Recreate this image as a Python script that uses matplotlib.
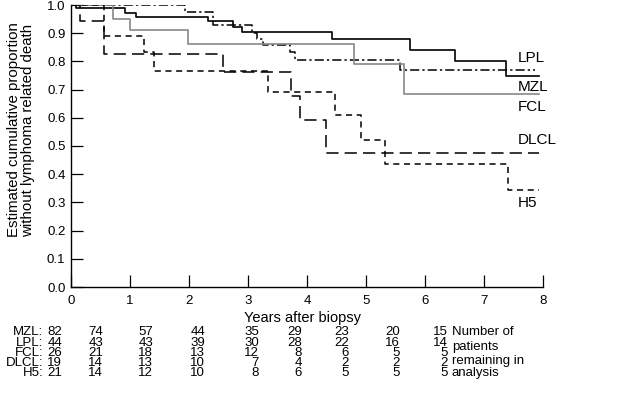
import matplotlib
matplotlib.use('Agg')
import matplotlib.pyplot as plt

plt.rcParams['font.family'] = ['Liberation Sans', 'DejaVu Sans']

# Kaplan-Meier step curves (time in years, proportion)
lpl_t = [0, 0.08, 0.92, 1.10, 2.33, 2.75, 2.90, 4.42, 5.75, 6.50, 7.38, 7.93]
lpl_s = [1.0, 0.99, 0.971, 0.958, 0.944, 0.922, 0.905, 0.878, 0.840, 0.802, 0.748, 0.748]
mzl_t = [0, 1.93, 2.41, 3.06, 3.15, 3.25, 3.71, 3.80, 5.58, 7.86]
mzl_s = [1.0, 0.974, 0.929, 0.90, 0.88, 0.858, 0.834, 0.805, 0.770, 0.770]
fcl_t = [0, 0.72, 1.0, 1.99, 4.80, 5.65, 7.93]
fcl_s = [1.0, 0.952, 0.911, 0.862, 0.790, 0.683, 0.683]
dlcl_t = [0, 0.16, 0.56, 2.58, 3.73, 3.88, 4.33, 7.93]
dlcl_s = [1.0, 0.944, 0.826, 0.763, 0.678, 0.592, 0.474, 0.474]
h5_t = [0, 0.56, 1.23, 1.41, 3.34, 4.47, 4.92, 5.32, 7.41, 7.93]
h5_s = [1.0, 0.891, 0.832, 0.766, 0.693, 0.610, 0.521, 0.435, 0.344, 0.344]

# numbers at risk
groups = ['MZL:', 'LPL:', 'FCL:', 'DLCL:', 'H5:']
at_risk = [
    [82, 74, 57, 44, 35, 29, 23, 20, 15],
    [44, 43, 43, 39, 30, 28, 22, 16, 14],
    [26, 21, 18, 13, 12, 8, 6, 5, 5],
    [19, 14, 13, 10, 7, 4, 2, 2, 2],
    [21, 14, 12, 10, 8, 6, 5, 5, 5],
]
side_note = ['Number of', 'patients', 'remaining in', 'analysis']

W, H = 640, 404
fig = plt.figure(figsize=(6.4, 4.04), dpi=100)
ax = fig.add_axes([71 / W, 1 - 287 / H, 472 / W, 282 / H])

ax.step(lpl_t, lpl_s, where='post', color='black', lw=1.2)
ax.step(mzl_t, mzl_s, where='post', color='black', lw=1.1, dashes=(6, 2, 1.5, 2))
ax.step(fcl_t, fcl_s, where='post', color='#888888', lw=1.2)
ax.step(dlcl_t, dlcl_s, where='post', color='black', lw=1.1, dashes=(8, 4))
ax.step(h5_t, h5_s, where='post', color='black', lw=1.1, dashes=(4, 3))

ax.set_xlim(0, 8)
ax.set_ylim(0, 1)
ax.set_xticks(range(9))
ax.set_yticks([i / 10 for i in range(11)])
ax.set_yticklabels(['%.1f' % (i / 10) for i in range(11)])
ax.tick_params(direction='in', length=8.5, width=0.9, labelsize=9.5, colors='black')
ax.tick_params(axis='x', pad=6)
ax.tick_params(axis='y', pad=4)
for s in ['top', 'right']:
    ax.spines[s].set_visible(False)
for s in ['left', 'bottom']:
    ax.spines[s].set_linewidth(1.0)

# curve labels
for txt, py in [('LPL', 58), ('MZL', 87), ('FCL', 107), ('DLCL', 140), ('H5', 203)]:
    fig.text(518 / W, 1 - py / H, txt, fontsize=11, va='center', ha='left')

fig.text(302 / W, 1 - 318 / H, 'Years after biopsy', fontsize=10.5, ha='center', va='center')
fig.text(21 / W, 1 - 130 / H, 'Estimated cumulative proportion\nwithout lymphoma related death',
         rotation=90, fontsize=10.8, ha='center', va='center', linespacing=0.95)

# at-risk table
row_y = [332, 342.5, 353, 363, 373]
col_x = [62, 103, 153, 205, 259, 302, 349, 400, 448]
tab_fs = 9.5
for r, g in enumerate(groups):
    fig.text(43 / W, 1 - row_y[r] / H, g, fontsize=tab_fs, ha='right', va='center')
    for c, v in enumerate(at_risk[r]):
        fig.text(col_x[c] / W, 1 - row_y[r] / H, str(v), fontsize=tab_fs, ha='right', va='center')
for txt, py in zip(side_note, [332, 347, 361, 373]):
    fig.text(452 / W, 1 - py / H, txt, fontsize=tab_fs, ha='left', va='center')

fig.savefig('out.png', dpi=100)
